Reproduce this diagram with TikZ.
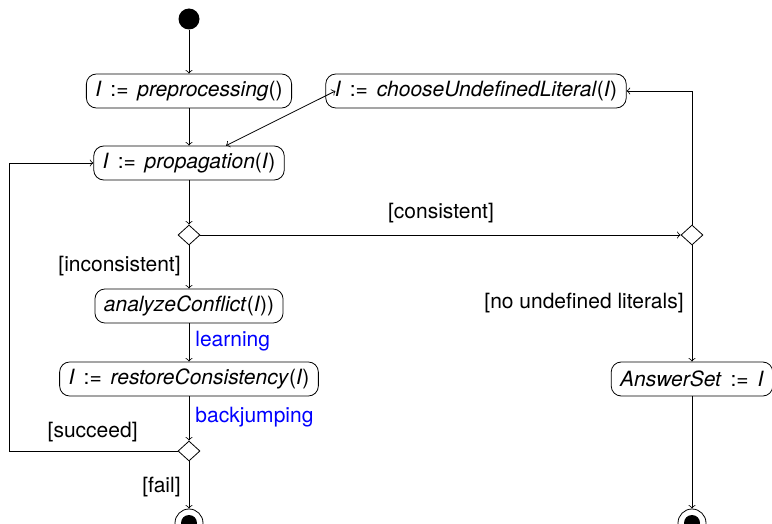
\documentclass[tikz,border=0pt]{standalone}
\usepackage{fontspec}
\setmainfont{TeX Gyre Heros}
\usetikzlibrary{shapes.geometric}
\newcommand{\assign}{\hspace{4.4pt}:=\hspace{4.4pt}}
\begin{document}
\begin{tikzpicture}[x=0.5pt,y=-0.5pt,
  font=\fontsize{10.5}{12}\selectfont,
  action/.style={draw, rounded corners=5pt, minimum height=17pt, inner xsep=4.5pt, inner ysep=0pt},
  choice/.style={draw, diamond, minimum width=11pt, minimum height=10pt, inner sep=0pt},
  initial/.style={circle, fill=black, minimum size=10.5pt, inner sep=0pt},
  final/.style={circle, draw, minimum size=14pt, inner sep=0pt,
    path picture={\fill (path picture bounding box.center) circle (4pt);}},
  guard/.style={inner sep=0pt},
  note/.style={inner sep=0pt, text=blue},
  flow/.style={->, >=to}]
\useasboundingbox (0,0) rectangle (772,524);

% activities
\node[initial] (start) at (189,19) {};
\node[action] (pre) at (189,91) {\textit{I}\assign\textit{preprocessing}()};
\node[action] (prop) at (189,163) {\textit{I}\assign\textit{propagation}(\textit{I})};
\node[action] (choose) at (476,91) {\textit{I}\assign\textit{chooseUndefinedLiteral}(\textit{I})};
\node[choice] (d1) at (189,235) {};
\node[choice] (d2) at (692,235) {};
\node[action] (analyze) at (189,306) {\textit{analyzeConflict}(\textit{I}))};
\node[action] (restore) at (189,379) {\textit{I}\assign\textit{restoreConsistency}(\textit{I})};
\node[choice] (d3) at (189,451) {};
\node[action] (answer) at (692,379) {\textit{AnswerSet}\assign\textit{I}};
\node[final] (end1) at (189,523) {};
\node[final] (end2) at (692,523) {};
\coordinate (loop) at (9,451);

% guards and notes
\node[guard] (gcons) at (441,213) {[consistent]};
\node[guard, anchor=east] (gincons) at (181,266) {[inconsistent]};
\node[note, anchor=west] (nlearn) at (195,341) {learning};
\node[note, anchor=west] (nback) at (195,417) {backjumping};
\node[guard, anchor=east] (gsucc) at (138,432) {[succeed]};
\node[guard, anchor=east] (gfail) at (181,487) {[fail]};
\node[guard, anchor=east] (gnoundef) at (684,303) {[no undefined literals]};

% control flow
\draw[flow] (start) -- (pre);
\draw[flow] (pre) -- (prop);
\draw[flow] (prop) -- (d1);
\draw[flow] (d1) -- (d2);
\draw[flow] (d1) -- (analyze);
\draw[flow] (analyze) -- (restore);
\draw[flow] (restore) -- (d3);
\draw[flow] (d3.west) -- (loop) |- (prop.west);
\draw[flow] (d3) -- (end1);
\draw[flow] (d2) |- (choose.east);
\draw[<->, >=to] ([xshift=18.5pt]prop.north) -- ([xshift=5pt]choose.west);
\draw[flow] (d2) -- (answer);
\draw[flow] (answer) -- (end2);
\end{tikzpicture}
\end{document}
